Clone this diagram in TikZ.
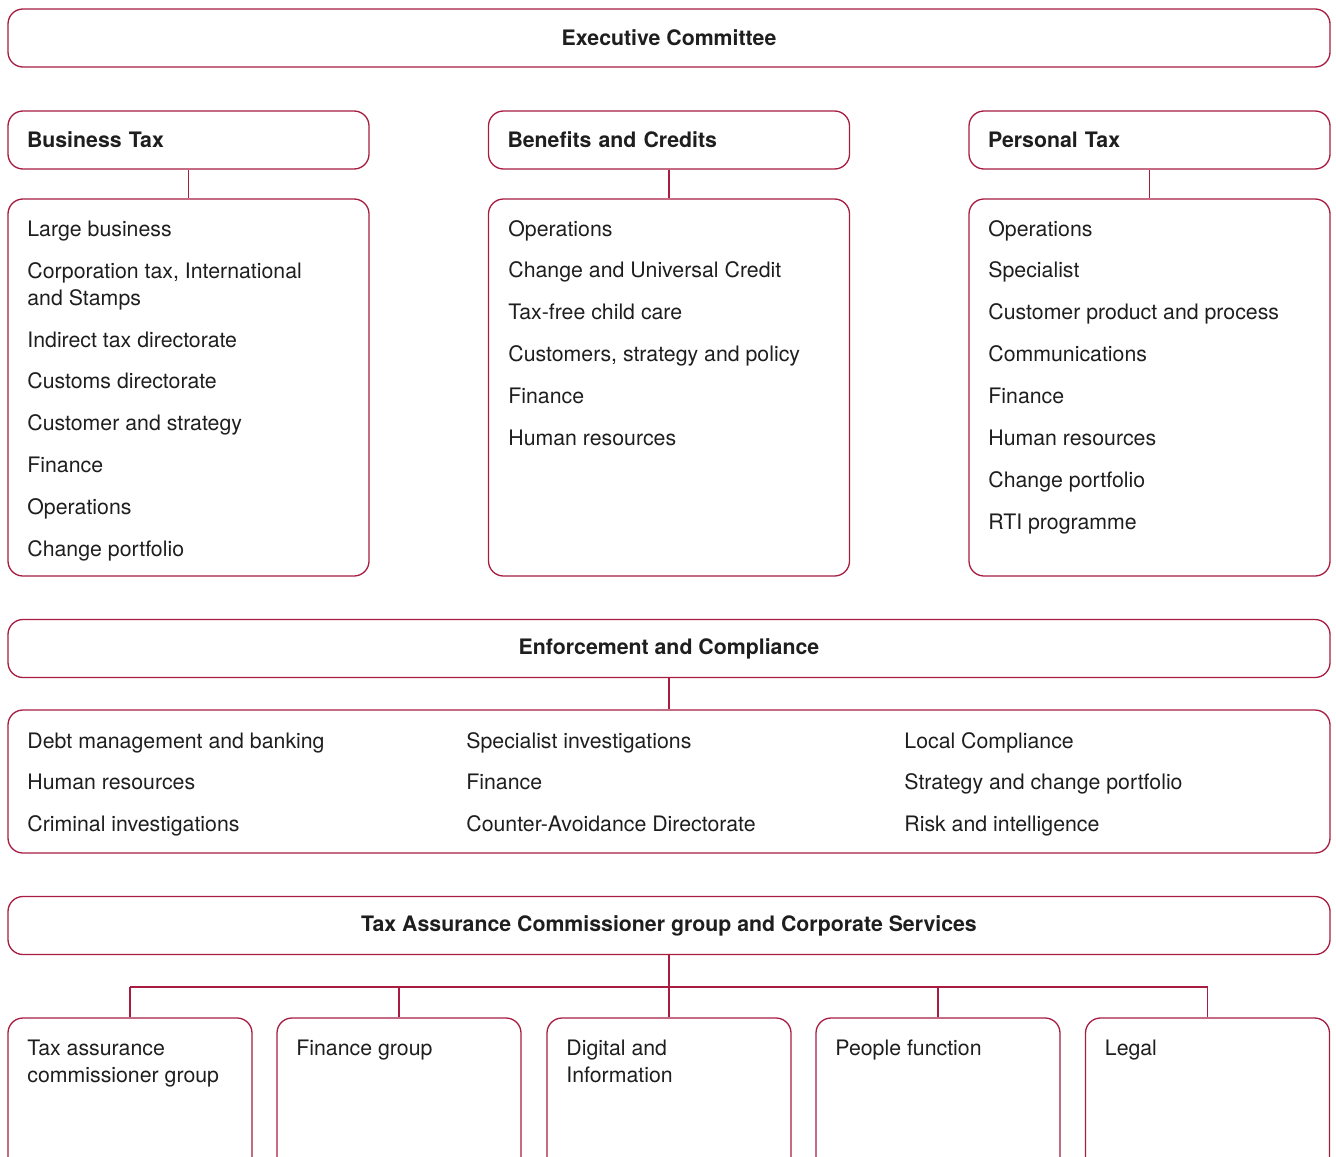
\documentclass[tikz,border=0pt]{standalone}
\usepackage{fontspec}
\setmainfont{TeX Gyre Heros}
\usepackage{xcolor}
\definecolor{hmrc}{RGB}{168,28,66}
\definecolor{ink}{RGB}{30,30,30}
\newcommand{\itemfont}{\fontsize{10.65}{13.5}\selectfont}
\tikzset{
 unit/.style={draw=hmrc, line width=0.65pt, rounded corners=7.5pt, inner sep=0pt},
 headbox/.style={unit, minimum height=29pt, inner xsep=9.5pt, text width=161.5pt, align=left, font=\itemfont\bfseries, text=ink},
 listbox/.style={unit, minimum width=180.5pt, minimum height=188.5pt},
 listitem/.style={anchor=base west, inner sep=0pt, font=\itemfont, text=ink, align=left},
 link/.style={draw=hmrc, line width=0.65pt}
}
\begin{document}
\begin{tikzpicture}[x=0.5pt, y=-0.5pt]
\useasboundingbox (0,0) rectangle (1336,1156);
\clip (0,0) rectangle (1336,1156);

\node[unit, minimum width=661pt, minimum height=29pt, font=\itemfont\bfseries, text=ink] (exec) at (669,38) {Executive Committee};

% three business groups
\node[headbox] (bt) at (188.5,140) {Business Tax};
\node[headbox] (bc) at (669,140) {Benefits and Credits};
\node[headbox] (pt) at (1149.5,140) {Personal Tax};

\node[listbox] (btl) at (188.5,387.5) {};
\node[listbox] (bcl) at (669,387.5) {};
\node[listbox] (ptl) at (1149.5,387.5) {};

\draw[link] (bt.south) -- (btl.north);
\draw[link] (bc.south) -- (bcl.north);
\draw[link] (pt.south) -- (ptl.north);

% multi-line items sit on the baseline of their last line
\foreach \y/\t [count=\i] in {236/Large business, 305/{Corporation tax, International\\and Stamps}, 347/Indirect tax directorate, 388/Customs directorate, 430/Customer and strategy, 472/Finance, 514/Operations, 556/Change portfolio}
 \node[listitem] (bt-\i) at (27,\y) {\t};

\foreach \t [count=\i] in {Operations, Change and Universal Credit, Tax-free child care, {Customers, strategy and policy}, Finance, Human resources}
 \node[listitem] (bc-\i) at (508,194.1+41.9*\i) {\t};

\foreach \t [count=\i] in {Operations, Specialist, Customer product and process, Communications, Finance, Human resources, Change portfolio, RTI programme}
 \node[listitem] (pt-\i) at (988,194.1+41.9*\i) {\t};

% enforcement
\node[unit, minimum width=661pt, minimum height=29pt, font=\itemfont\bfseries, text=ink] (ec) at (669,648.5) {Enforcement and Compliance};
\node[unit, minimum width=661pt, minimum height=71.5pt] (ecl) at (669,781.5) {};
\draw[link] (ec.south) -- (ecl.north);

\foreach \t [count=\i] in {Debt management and banking, Human resources, Criminal investigations}
 \node[listitem] (eca-\i) at (27,706.5+41.5*\i) {\t};
\foreach \t [count=\i] in {Specialist investigations, Finance, Counter-Avoidance Directorate}
 \node[listitem] (ecb-\i) at (466,706.5+41.5*\i) {\t};
\foreach \t [count=\i] in {Local Compliance, Strategy and change portfolio, Risk and intelligence}
 \node[listitem] (ecc-\i) at (904,706.5+41.5*\i) {\t};

% corporate services
\node[unit, minimum width=661pt, minimum height=29pt, font=\itemfont\bfseries, text=ink] (ta) at (669,925.5) {Tax Assurance Commissioner group and Corporate Services};
\coordinate (bar) at (669,987);
\draw[link] (ta.south) -- (bar);

\foreach \x/\y/\t [count=\i] in {130/1082/{Tax assurance\\commissioner group}, 399/1055/Finance group, 669/1082/{Digital and\\Information}, 938/1055/People function, 1207.5/1055/Legal}{
 \node[unit, minimum width=122pt, minimum height=91pt] (cs-\i) at (\x,1109) {};
 \node[listitem] (cst-\i) at (\x-103,\y) {\t};
 \draw[link] (cs-\i.north) -- (cs-\i.north |- bar);
}
\draw[link] (cs-1.north |- bar) -- (cs-5.north |- bar);

\end{tikzpicture}
\end{document}
